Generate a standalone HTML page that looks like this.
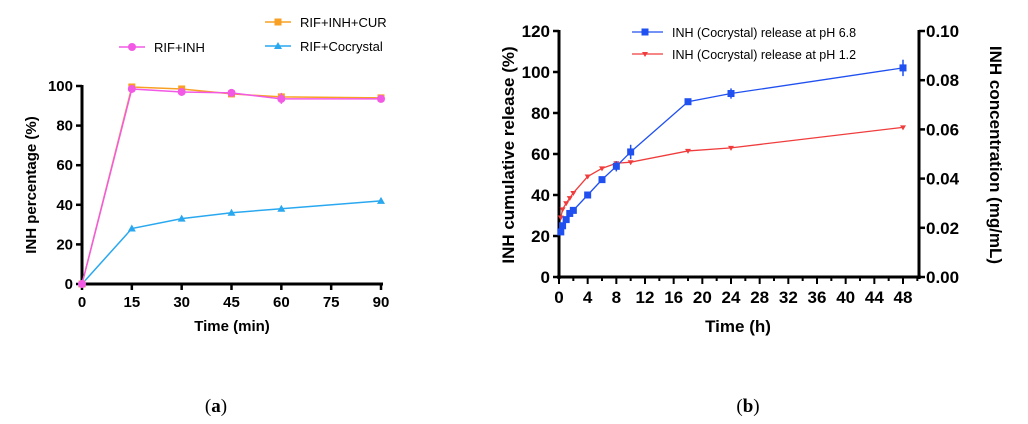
<!DOCTYPE html>
<html><head><meta charset="utf-8"><style>
body{margin:0;background:#fff;width:1028px;height:424px;overflow:hidden;font-family:"Liberation Sans",sans-serif}
svg{position:absolute;left:0;top:0}
</style></head><body>
<svg id="s" width="1028" height="424"></svg>
<script>
const aX=[0,15,30,45,60,90];
const aCur=[0,99.5,98.5,96,94.5,94];
const aInh=[0,98.5,97,96.5,93.5,93.5];
const aCoc=[0,28,33,36,38,42];
const aXTicks=[0,15,30,45,60,75,90];
const aYTicks=[0,20,40,60,80,100];
const bX=[0.25,0.5,1,1.5,2,4,6,8,10,18,24,48];
const b68=[22,25,28,31,32.5,40,47.5,54,61,85.5,89.5,102];
const b12=[29,33,36,38.5,41,49,53,55.5,56,61.5,63,73];
const bXTicks=[0,4,8,12,16,20,24,28,32,36,40,44,48];
const bYTicks=[0,20,40,60,80,100,120];
const bY2Ticks=["0.00","0.02","0.04","0.06","0.08","0.10"];
const S=document.getElementById('s');const NS='http://www.w3.org/2000/svg';
function el(t,a,n){const e=document.createElementNS(NS,t);for(const k in a)e.setAttribute(k,a[k]);


S.appendChild(e);return e;}
function txt(x,y,s,n,o){const e=el('text',Object.assign({x:x,y:y,'font-size':15,'font-weight':'bold','text-anchor':'middle',fill:'#000'},o||{}),n);e.textContent=s;return e;}
// chart a
const ax=v=>82+v*(381-82)/90, ay=v=>284-v*(284-86)/100;
el('line',{x1:82,y1:ay(100)-1,x2:82,y2:286,stroke:'#000','stroke-width':3},'a-y-axis');
el('line',{x1:80,y1:284,x2:383,y2:284,stroke:'#000','stroke-width':3},'a-x-axis');
aYTicks.forEach(v=>{el('line',{x1:76,y1:ay(v),x2:82,y2:ay(v),stroke:'#000','stroke-width':2.5},'a-y-tick');txt(73,ay(v)+5,v,'a-y-tick-label',{'text-anchor':'end'});});
aXTicks.forEach(v=>{el('line',{x1:ax(v),y1:284,x2:ax(v),y2:290,stroke:'#000','stroke-width':2.5},'a-x-tick');txt(ax(v),307,v,'a-x-tick-label');});
txt(232,331,'Time (min)','a-x-axis-title');
txt(0,0,'INH percentage (%)','a-y-axis-title',{transform:'translate(36,185) rotate(-90)'});
function series(xs,ys,fx,fy,col,mark,n,w){el('polyline',{points:xs.map((x,i)=>fx(x)+','+fy(ys[i])).join(' '),fill:'none',stroke:col,'stroke-width':w||1.5},n+'-line');
xs.forEach((x,i)=>{const X=fx(x),Y=fy(ys[i]);mk(X,Y,col,mark,n+'-point');});}
function mk(X,Y,col,mark,n){if(mark=='sq')el('rect',{x:X-3.5,y:Y-3.5,width:7,height:7,fill:col},n);
else if(mark=='c')el('circle',{cx:X,cy:Y,r:4,fill:col},n);
else if(mark=='t')el('polygon',{points:`${X},${Y-4} ${X-4},${Y+3} ${X+4},${Y+3}`,fill:col},n);
else el('polygon',{points:`${X-3},${Y-2} ${X+3},${Y-2} ${X},${Y+3}`,fill:col},n);}
series(aX,aCoc,ax,ay,'#29a8f0','t','a-cocrystal');
series(aX,aCur,ax,ay,'#f7a023','sq','a-rif-inh-cur');
series(aX,aInh,ax,ay,'#f25ae6','c','a-rif-inh');
el('line',{x1:ax(60),y1:ay(96.5),x2:ax(60),y2:ay(91),stroke:'#f25ae6','stroke-width':1.5},'a-error-bar');
// legend a
el('line',{x1:119,y1:47,x2:145,y2:47,stroke:'#f25ae6','stroke-width':1.5},'legend-rif-inh-line');mk(132,47,'#f25ae6','c','legend-rif-inh-marker');
txt(154,52,'RIF+INH','legend-rif-inh',{'text-anchor':'start','font-weight':'normal','font-size':13});
el('line',{x1:265,y1:22,x2:291,y2:22,stroke:'#f7a023','stroke-width':1.5},'legend-cur-line');mk(278,22,'#f7a023','sq','legend-cur-marker');
txt(300,27,'RIF+INH+CUR','legend-rif-inh-cur',{'text-anchor':'start','font-weight':'normal','font-size':13});
el('line',{x1:265,y1:46,x2:291,y2:46,stroke:'#29a8f0','stroke-width':1.5},'legend-coc-line');mk(278,46,'#29a8f0','t','legend-coc-marker');
txt(300,51,'RIF+Cocrystal','legend-rif-cocrystal',{'text-anchor':'start','font-weight':'normal','font-size':13});
// chart b
const bx=v=>559+v*(903-559)/48, by=v=>277-v*(277-31)/120;
el('line',{x1:559,y1:30,x2:559,y2:279,stroke:'#000','stroke-width':3},'b-y-axis');
el('line',{x1:919,y1:30,x2:919,y2:279,stroke:'#000','stroke-width':3},'b-y2-axis');
el('line',{x1:557,y1:277,x2:921,y2:277,stroke:'#000','stroke-width':3},'b-x-axis');
bYTicks.forEach(v=>{el('line',{x1:553,y1:by(v),x2:559,y2:by(v),stroke:'#000','stroke-width':2.5},'b-y-tick');txt(550,by(v)+6,v,'b-y-tick-label',{'text-anchor':'end','font-size':17});});
bY2Ticks.forEach((v,i)=>{const Y=by(i*24);el('line',{x1:919,y1:Y,x2:925,y2:Y,stroke:'#000','stroke-width':2.5},'b-y2-tick');txt(926,Y+6,v,'b-y2-tick-label',{'text-anchor':'start','font-size':17});});
for(let v=0;v<=50;v+=2){el('line',{x1:bx(v),y1:277,x2:bx(v),y2:v%4?281:284,stroke:'#000','stroke-width':2},'b-x-tick');}
bXTicks.forEach(v=>txt(bx(v),303,v,'b-x-tick-label',{'font-size':17}));
txt(738,332,'Time (h)','b-x-axis-title',{'font-size':17});
txt(0,0,'INH cumulative release (%)','b-y-axis-title',{transform:'translate(514,155) rotate(-90)','font-size':17});
txt(0,0,'INH concentration (mg/mL)','b-y2-axis-title',{transform:'translate(990,155) rotate(90)','font-size':17});
series(bX,b12,bx,by,'#f03c3c','v','b-ph12',1.3);
series(bX,b68,bx,by,'#2050f0','sq','b-ph68',1.3);
[[8,2.5],[10,3.5],[24,2.5],[48,4]].forEach(([x,e])=>{const i=bX.indexOf(x);el('line',{x1:bx(x),y1:by(b68[i]+e),x2:bx(x),y2:by(b68[i]-e),stroke:'#2050f0','stroke-width':1.5},'b-error-bar');});
el('line',{x1:632,y1:32,x2:663,y2:32,stroke:'#2050f0','stroke-width':1.3},'legend-ph68-line');mk(645,32,'#2050f0','sq','legend-ph68-marker');
txt(672,37,'INH (Cocrystal) release at pH 6.8','legend-ph68',{'text-anchor':'start','font-weight':'normal','font-size':12.5});
el('line',{x1:632,y1:54,x2:663,y2:54,stroke:'#f03c3c','stroke-width':1.3},'legend-ph12-line');mk(645,54,'#f03c3c','v','legend-ph12-marker');
txt(672,59,'INH (Cocrystal) release at pH 1.2','legend-ph12',{'text-anchor':'start','font-weight':'normal','font-size':12.5});
// captions
const c1=txt(216,412,'','caption-a',{'font-weight':'normal','font-size':19,'font-family':'Liberation Serif,serif'});c1.innerHTML='(<tspan font-weight="bold">a</tspan>)';
const c2=txt(748,412,'','caption-b',{'font-weight':'normal','font-size':19,'font-family':'Liberation Serif,serif'});c2.innerHTML='(<tspan font-weight="bold">b</tspan>)';
</script></body></html>
